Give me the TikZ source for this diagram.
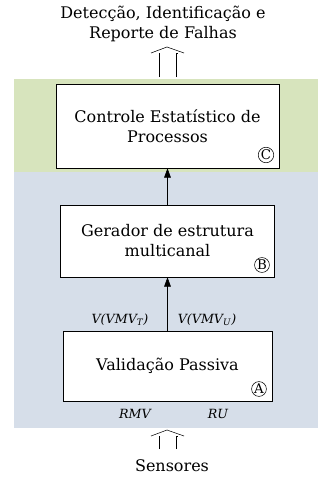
\documentclass[tikz,border=0pt]{standalone}
\usepackage{fontspec}
\setmainfont{DejaVu Serif}
\usepackage{tikz}
\usetikzlibrary{arrows.meta,positioning}
\definecolor{bandgreen}{RGB}{215,228,189}
\definecolor{bandblue}{RGB}{214,222,233}

\begin{document}
\begin{tikzpicture}[x=0.75pt,y=-0.75pt,
        blk/.style={draw,fill=white,align=center,font=\fontsize{12}{15}\selectfont},
        tag/.style={draw,circle,inner sep=0.3pt,font=\fontsize{10}{10}\selectfont},
        sig/.style={font=\fontsize{9.5}{11}\selectfont\itshape},
        txt/.style={align=center,font=\fontsize{12}{15}\selectfont}
      ]
        \useasboundingbox (0,0) rectangle (324,482);
        % bands
        \fill[bandgreen] (14,79) rectangle (318,172);
        \fill[bandblue] (14,172) rectangle (318,428);
        % blocks
        \node[blk,minimum width=167pt,minimum height=63pt] (spc) at (167.5,126) {Controle Estatístico de\\Processos};
        \node[blk,minimum width=160.5pt,minimum height=54pt] (ger) at (167.5,241) {Gerador de estrutura\\multicanal};
        \node[blk,minimum width=157pt,minimum height=52.5pt] (val) at (167.5,366) {Validação Passiva};
        \node[tag] (tc) at (266,155) {C};
        \node[tag] (tb) at (262,265) {B};
        \node[tag] (ta) at (259,389) {A};
        % signals
        \draw[-{Triangle[length=7pt,width=5pt]}] (val.north) -- (ger.south);
        \draw[-{Triangle[length=7pt,width=5pt]}] (ger.north) -- (spc.south);
        \node[sig] (vt) at (120,320) {V(VMV\textsubscript{T})};
        \node[sig] (vu) at (207,320) {V(VMV\textsubscript{U})};
        \node[sig] (rmv) at (135,414) {RMV};
        \node[sig] (ru) at (218,414) {RU};
        % inputs and outputs
        \node[txt] (out) at (163,24) {Detecção, Identificação e\\Reporte de Falhas};
        \node[txt] (sen) at (172,466) {Sensores};
        \coordinate (inarr) at (167,430);
        \coordinate (outarr) at (167,47);
        \draw (inarr)++(-8,19) -- ++(0,-13);
        \draw (inarr)++(-16,6) -- ++(16,-6) -- ++(17,6);
        \draw (inarr)++(9,19) -- ++(0,-13) -- ++(2,0);
        \draw (outarr)++(-8,30) -- ++(0,-24);
        \draw (outarr)++(-16,6) -- ++(16,-6) -- ++(17,6);
        \draw (outarr)++(9,30) -- ++(0,-24) -- ++(2,0);
      \end{tikzpicture}
\end{document}
